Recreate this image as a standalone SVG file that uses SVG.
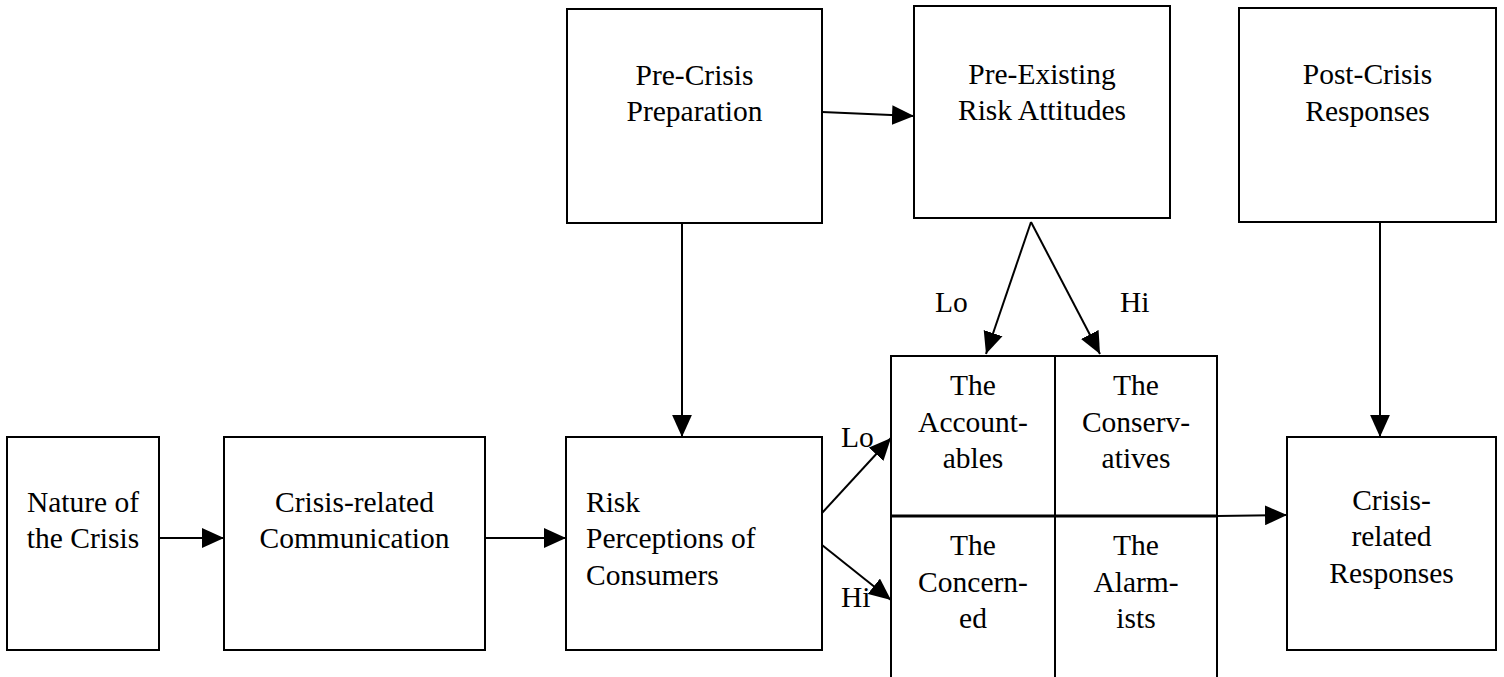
<svg xmlns="http://www.w3.org/2000/svg" width="1504" height="677" viewBox="0 0 1504 677" font-family="Liberation Serif, DejaVu Serif, serif">
<style>
.box{fill:#fff;stroke:#000;stroke-width:2}
text{font-family:"Liberation Serif",serif;font-size:29.5px;fill:#000}
.c{text-anchor:middle}
.edge{stroke:#000;stroke-width:2;fill:none}
</style>
<defs>
<marker id="ah" markerUnits="userSpaceOnUse" markerWidth="22" markerHeight="20" refX="20" refY="9" orient="auto" viewBox="0 0 20 18">
<path d="M0,0 L20,9 L0,18 z" fill="#000"/>
</marker>
</defs>
<rect width="1504" height="677" fill="#fff"/>
<g id="nature">
<rect class="box" x="7" y="437" width="152" height="213"/>
<text class="c" x="83" y="512">Nature of</text>
<text class="c" x="83" y="548">the Crisis</text>
</g>
<g id="communication">
<rect class="box" x="224" y="437" width="261" height="213"/>
<text class="c" x="354.5" y="512">Crisis-related</text>
<text class="c" x="354.5" y="548">Communication</text>
</g>
<g id="perceptions">
<rect class="box" x="566" y="437" width="256" height="213"/>
<text x="586" y="512">Risk</text>
<text x="586" y="548">Perceptions of</text>
<text x="586" y="585">Consumers</text>
</g>
<g id="preparation">
<rect class="box" x="567" y="9" width="255" height="214"/>
<text class="c" x="694.5" y="85">Pre-Crisis</text>
<text class="c" x="694.5" y="121">Preparation</text>
</g>
<g id="attitudes">
<rect class="box" x="914" y="6" width="256" height="212"/>
<text class="c" x="1042" y="84">Pre-Existing</text>
<text class="c" x="1042" y="120">Risk Attitudes</text>
</g>
<g id="postcrisis">
<rect class="box" x="1239" y="8" width="257" height="214"/>
<text class="c" x="1367.5" y="84">Post-Crisis</text>
<text class="c" x="1367.5" y="121">Responses</text>
</g>
<g id="responses">
<rect class="box" x="1287" y="437" width="209" height="213"/>
<text class="c" x="1391.5" y="510">Crisis-</text>
<text class="c" x="1391.5" y="546">related</text>
<text class="c" x="1391.5" y="583">Responses</text>
</g>
<g id="segments">
<rect class="box" x="891" y="356" width="326" height="324"/>
<line x1="1055" y1="356" x2="1055" y2="680" stroke="#000" stroke-width="2"/>
<line x1="891" y1="516" x2="1217" y2="516" stroke="#000" stroke-width="3"/>
<g id="accountables">
<text class="c" x="973" y="395">The</text>
<text class="c" x="973" y="432">Account-</text>
<text class="c" x="973" y="468">ables</text>
</g>
<g id="conservatives">
<text class="c" x="1136" y="395">The</text>
<text class="c" x="1136" y="432">Conserv-</text>
<text class="c" x="1136" y="468">atives</text>
</g>
<g id="concerned">
<text class="c" x="973" y="555">The</text>
<text class="c" x="973" y="592">Concern-</text>
<text class="c" x="973" y="628">ed</text>
</g>
<g id="alarmists">
<text class="c" x="1136" y="555">The</text>
<text class="c" x="1136" y="592">Alarm-</text>
<text class="c" x="1136" y="628">ists</text>
</g>
</g>
<g id="connectors">
<line class="edge" x1="159" y1="538" x2="224" y2="538" marker-end="url(#ah)"/>
<line class="edge" x1="485" y1="538" x2="566" y2="538" marker-end="url(#ah)"/>
<line class="edge" x1="822" y1="112" x2="914" y2="116" marker-end="url(#ah)"/>
<line class="edge" x1="682" y1="223" x2="682" y2="437" marker-end="url(#ah)"/>
<line class="edge" x1="1031" y1="222" x2="986" y2="354" marker-end="url(#ah)"/>
<line class="edge" x1="1031" y1="222" x2="1100" y2="354" marker-end="url(#ah)"/>
<line class="edge" x1="1380" y1="222" x2="1380" y2="437" marker-end="url(#ah)"/>
<line class="edge" x1="822" y1="513" x2="891" y2="438" marker-end="url(#ah)"/>
<line class="edge" x1="822" y1="545" x2="891" y2="600" marker-end="url(#ah)"/>
<line class="edge" x1="1217" y1="516" x2="1287" y2="515" marker-end="url(#ah)"/>
<text x="935" y="312">Lo</text>
<text x="1120" y="312">Hi</text>
<text x="841" y="447">Lo</text>
<text x="841" y="607">Hi</text>
</g>
</svg>
